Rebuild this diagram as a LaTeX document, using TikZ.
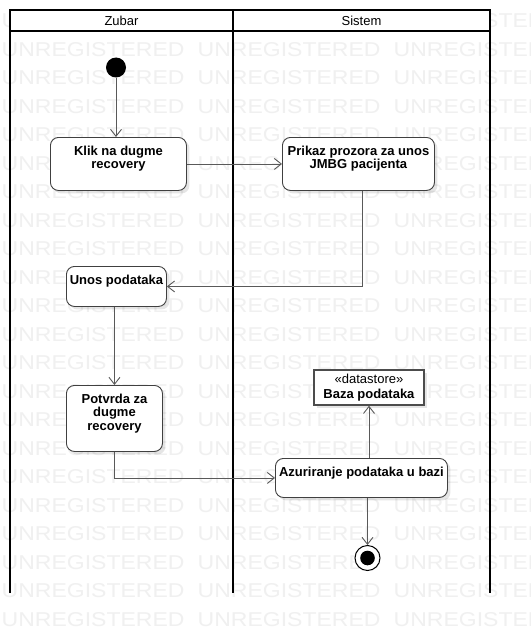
\documentclass[tikz,border=0pt]{standalone}
\usepackage{fontspec}
\setmainfont{Liberation Sans}
\usetikzlibrary{arrows.meta,shadows}
\newcommand\acttext[3]{\parbox[c][#2pt][t]{#1pt}{\centering\vspace*{8.5pt}\fontsize{13}{13.5}\selectfont\bfseries #3}}
\begin{document}
\begin{tikzpicture}[x=1pt,y=-1pt,
  wmark/.style={inner sep=0pt, anchor=west, text=black!6, font=\fontsize{20}{20}\selectfont, xscale=1.15},
  lane/.style={draw=black, line width=2pt},
  lanehead/.style={inner sep=0pt, font=\fontsize{13}{13}\selectfont},
  act/.style={draw=black!75, line width=0.9pt, rounded corners=8pt, fill=white, inner sep=0pt, anchor=north west,
    drop shadow={shadow xshift=3pt, shadow yshift=-3pt, fill=black, opacity=0.10}},
  store/.style={draw=black!70, line width=1.5pt, fill=white, inner sep=0pt, align=center,
    font=\fontsize{13}{14.5}\selectfont,
    drop shadow={shadow xshift=3pt, shadow yshift=-3pt, fill=black, opacity=0.10}},
  flow/.style={draw=black!65, line width=0.9pt, -{Straight Barb[length=7pt,width=11pt,line width=0.9pt]}},
  startnode/.style={circle, fill=black, inner sep=0pt, minimum size=20pt},
  endnode/.style={circle, draw=black, line width=1pt, fill=white, inner sep=0pt, minimum size=25pt,
    path picture={\fill[black] (path picture bounding box.center) circle[radius=7.3pt];}}
]
\useasboundingbox (0,0) rectangle (530,634);
\fill[white] (0,0) rectangle (530,634);
% watermark
\begin{scope}
\clip (0,0) rectangle (530,634);
\foreach \r in {0,...,22}{
  \foreach \c in {0,1,2}{
    \node[wmark] (wm-\r-\c) at ({1.5+196*\c},{21+28.5*\r}) {UNREGISTERED};
  }
}
\end{scope}
% swimlanes
\fill[white] (10,10) rectangle (490,31);
\draw[lane] (10,593) -- (10,10) -- (490,10) -- (490,593);
\draw[lane] (10,31) -- (490,31);
\draw[lane] (233,10) -- (233,593);
\node[lanehead] (hz) at (121.5,20.5) {Zubar};
\node[lanehead] (hs) at (361.5,20.5) {Sistem};
% nodes
\node[startnode] (init) at (116,67.5) {};
\node[act, minimum width=136pt, minimum height=53pt] (klik) at (50,137) {\acttext{136}{53}{Klik na dugme\\recovery}};
\node[act, minimum width=152pt, minimum height=53pt] (prikaz) at (282,137) {\acttext{152}{53}{Prikaz prozora za unos\\JMBG pacijenta}};
\node[act, minimum width=100pt, minimum height=40pt] (unos) at (66,266) {\acttext{100}{40}{Unos podataka}};
\node[act, minimum width=96pt, minimum height=66pt] (potvrda) at (66,385) {\acttext{96}{66}{Potvrda za\\dugme\\recovery}};
\node[act, minimum width=172pt, minimum height=39pt] (azur) at (275,458) {\acttext{172}{39}{Azuriranje podataka u bazi}};
\node[store, minimum width=110pt, minimum height=35pt] (baza) at (369,387.5) {«datastore»\\\textbf{Baza podataka}};
\node[endnode] (final) at (367.5,558) {};
% flows
\draw[flow] (init) -- (init |- klik.north);
\draw[flow] (klik.east) -- (prikaz.west);
\draw[flow] ([xshift=3.5pt]prikaz.south) |- (unos.east);
\draw[flow] (potvrda.north |- unos.south) -- (potvrda.north);
\draw[flow] (potvrda.south) |- (azur.west);
\draw[flow] (baza.south |- azur.north) -- (baza.south);
\draw[flow] (final |- azur.south) -- (final);
\end{tikzpicture}
\end{document}
